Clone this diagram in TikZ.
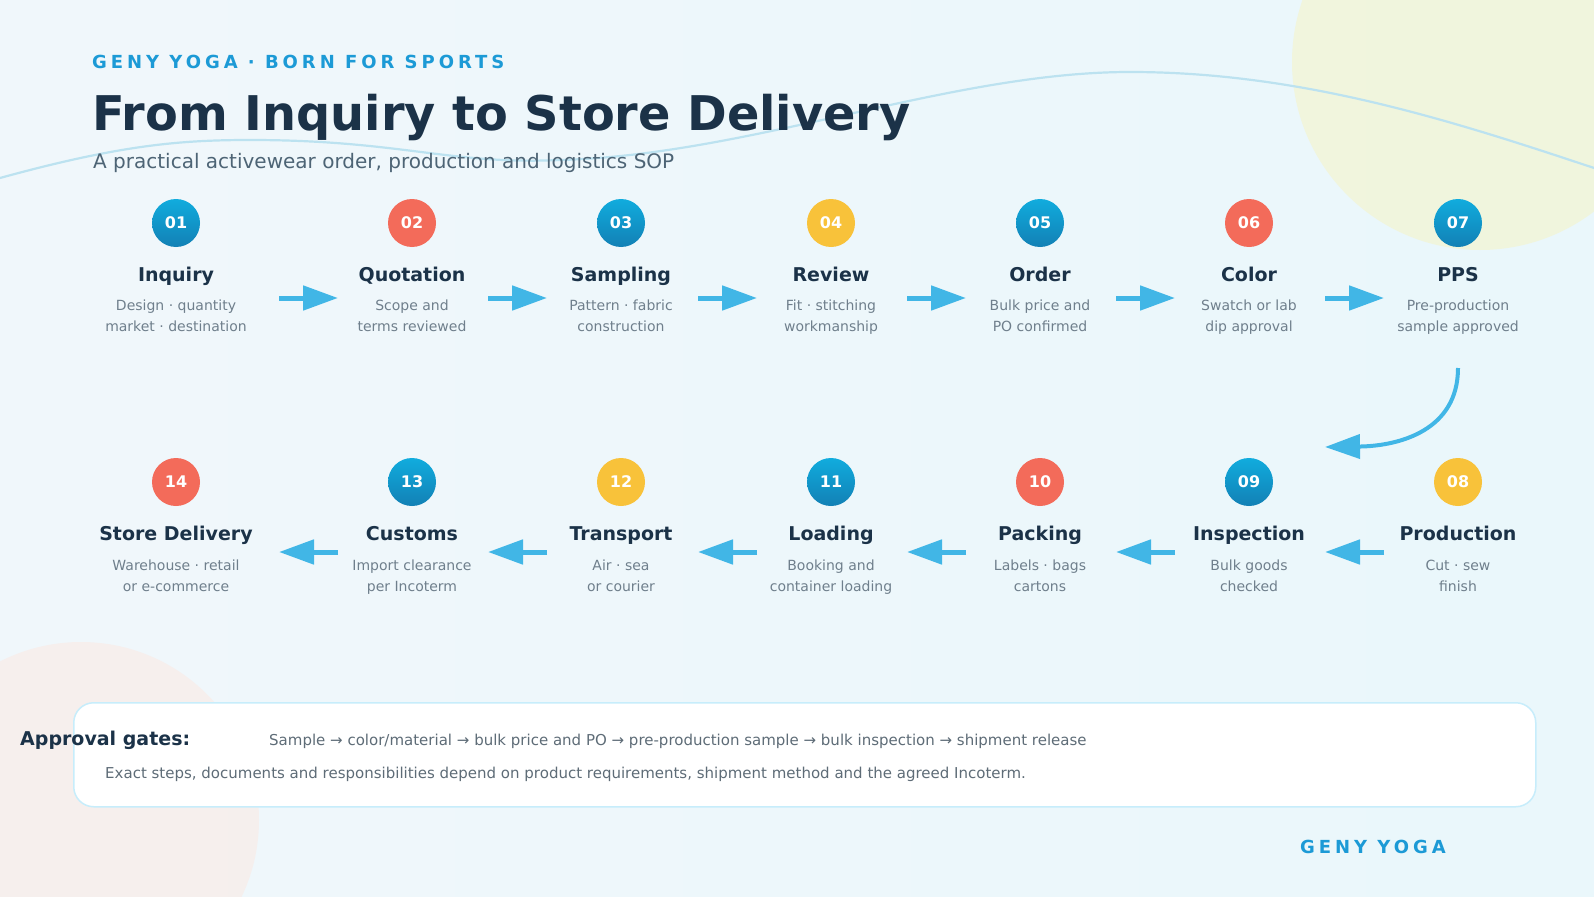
\documentclass[tikz,border=0pt]{standalone}
\usepackage{fontspec}
\setmainfont{DejaVu Sans}
\newfontfamily\brandfont[LetterSpace=22]{DejaVu Sans}
\usetikzlibrary{arrows.meta}

\definecolor{navy}{HTML}{1B3248}
\definecolor{brandblue}{HTML}{1C9AD6}
\definecolor{descgray}{HTML}{6F7F8C}
\definecolor{subgray}{HTML}{4D6475}
\definecolor{flowblue}{HTML}{41B6E6}
\definecolor{dotblue}{HTML}{1597D5}
\definecolor{dotred}{HTML}{F36B5A}
\definecolor{dotyellow}{HTML}{F8C23A}
\definecolor{bgleft}{HTML}{F4F8FA}
\definecolor{bgright}{HTML}{E6F6FC}
\definecolor{wave}{HTML}{BCE2F0}
\pgfdeclarehorizontalshading{bgshade}{100bp}{color(0bp)=(bgleft); color(100bp)=(bgright)}

\tikzset{
	num/.style={circle, minimum size=48pt, inner sep=0pt, text=white, font=\bfseries\fontsize{16}{16}\selectfont},
	bluedot/.style={num, top color=dotblue!80!cyan, bottom color=dotblue!85!black},
	reddot/.style={num, fill=dotred},
	yellowdot/.style={num, fill=dotyellow},
	ttl/.style={anchor=base, text=navy, inner sep=0pt, font=\bfseries\fontsize{19}{20}\selectfont},
	dsc/.style={anchor=base, text=descgray, align=center, inner sep=0pt, font=\fontsize{14}{21}\selectfont},
	flow/.style={line width=5pt, draw=flowblue, -{Triangle[length=35pt,width=24pt]}},
}

\begin{document}
\begin{tikzpicture}[x=1pt, y=-1pt]
	\useasboundingbox (0,0) rectangle (1594,896);
	% background
	\shade[shading=bgshade] (0,0) rectangle (1594,896);
	\fill[yellow!60!olive!20, opacity=0.55] (1480,62) circle (188);
	\fill[red!40!brown!12, opacity=0.6] (81,820) circle (178);
	\draw[wave, line width=2.2pt] (0,178) .. controls (120,145) and (180,140) .. (250,140) .. controls (400,140) and (450,165) .. (560,160) .. controls (750,155) and (950,72) .. (1130,72) .. controls (1300,72) and (1450,120) .. (1594,168);

	% header
	\node[anchor=base west, inner sep=0pt, text=brandblue, font=\brandfont\bfseries\fontsize{18}{20}\selectfont] (brand) at (92,69) {GENY YOGA · BORN FOR SPORTS};
	\node[anchor=base west, inner sep=0pt, text=navy, font=\bfseries\fontsize{47.8}{50}\selectfont] (title) at (92,131) {From Inquiry to Store Delivery};
	\node[anchor=base west, inner sep=0pt, text=subgray, font=\fontsize{20}{22}\selectfont] (subtitle) at (93,168) {A practical activewear order, production and logistics SOP};

	% first row
	\node[bluedot] (n1) at (176,223) {01};
	\node[reddot] (n2) at (412,223) {02};
	\node[bluedot] (n3) at (621,223) {03};
	\node[yellowdot] (n4) at (831,223) {04};
	\node[bluedot] (n5) at (1040,223) {05};
	\node[reddot] (n6) at (1249,223) {06};
	\node[bluedot] (n7) at (1458,223) {07};

	\node[ttl] (t1) at (176,281) {Inquiry};
	\node[ttl] (t2) at (412,281) {Quotation};
	\node[ttl] (t3) at (621,281) {Sampling};
	\node[ttl] (t4) at (831,281) {Review};
	\node[ttl] (t5) at (1040,281) {Order};
	\node[ttl] (t6) at (1249,281) {Color};
	\node[ttl] (t7) at (1458,281) {PPS};

	\node[dsc] (d1) at (176,331) {Design · quantity\\market · destination};
	\node[dsc] (d2) at (412,331) {Scope and\\terms reviewed};
	\node[dsc] (d3) at (621,331) {Pattern · fabric\\construction};
	\node[dsc] (d4) at (831,331) {Fit · stitching\\workmanship};
	\node[dsc] (d5) at (1040,331) {Bulk price and\\PO confirmed};
	\node[dsc] (d6) at (1249,331) {Swatch or lab\\dip approval};
	\node[dsc] (d7) at (1458,331) {Pre-production\\sample approved};

	% second row
	\node[yellowdot] (n8) at (1458,482) {08};
	\node[bluedot] (n9) at (1249,482) {09};
	\node[reddot] (n10) at (1040,482) {10};
	\node[bluedot] (n11) at (831,482) {11};
	\node[yellowdot] (n12) at (621,482) {12};
	\node[bluedot] (n13) at (412,482) {13};
	\node[reddot] (n14) at (176,482) {14};

	\node[ttl] (t8) at (1458,540) {Production};
	\node[ttl] (t9) at (1249,540) {Inspection};
	\node[ttl] (t10) at (1040,540) {Packing};
	\node[ttl] (t11) at (831,540) {Loading};
	\node[ttl] (t12) at (621,540) {Transport};
	\node[ttl] (t13) at (412,540) {Customs};
	\node[ttl] (t14) at (176,540) {Store Delivery};

	\node[dsc] (d8) at (1458,591) {Cut · sew\\finish};
	\node[dsc] (d9) at (1249,591) {Bulk goods\\checked};
	\node[dsc] (d10) at (1040,591) {Labels · bags\\cartons};
	\node[dsc] (d11) at (831,591) {Booking and\\container loading};
	\node[dsc] (d12) at (621,591) {Air · sea\\or courier};
	\node[dsc] (d13) at (412,591) {Import clearance\\per Incoterm};
	\node[dsc] (d14) at (176,591) {Warehouse · retail\\or e-commerce};

	% arrows
	\draw[flow] ([xshift=-133pt]t2.base |- 0,298) -- ([xshift=-74pt]t2.base |- 0,298);
	\draw[flow] ([xshift=-133pt]t3.base |- 0,298) -- ([xshift=-74pt]t3.base |- 0,298);
	\draw[flow] ([xshift=-133pt]t4.base |- 0,298) -- ([xshift=-74pt]t4.base |- 0,298);
	\draw[flow] ([xshift=-133pt]t5.base |- 0,298) -- ([xshift=-74pt]t5.base |- 0,298);
	\draw[flow] ([xshift=-133pt]t6.base |- 0,298) -- ([xshift=-74pt]t6.base |- 0,298);
	\draw[flow] ([xshift=-133pt]t7.base |- 0,298) -- ([xshift=-74pt]t7.base |- 0,298);

	\draw[flow, line width=4pt] (d7.base |- 0,368) .. controls +(0,62) and +(75,-1) .. (1325,447);

	\draw[flow] ([xshift=-74pt]t8.base |- 0,552) -- ([xshift=-133pt]t8.base |- 0,552);
	\draw[flow] ([xshift=-74pt]t9.base |- 0,552) -- ([xshift=-133pt]t9.base |- 0,552);
	\draw[flow] ([xshift=-74pt]t10.base |- 0,552) -- ([xshift=-133pt]t10.base |- 0,552);
	\draw[flow] ([xshift=-74pt]t11.base |- 0,552) -- ([xshift=-133pt]t11.base |- 0,552);
	\draw[flow] ([xshift=-74pt]t12.base |- 0,552) -- ([xshift=-133pt]t12.base |- 0,552);
	\draw[flow] ([xshift=-74pt]t13.base |- 0,552) -- ([xshift=-133pt]t13.base |- 0,552);

	% approval gates
	\node[draw=cyan!22!white, line width=1.5pt, fill=white, rounded corners=20pt, minimum width=1462pt, minimum height=104pt, anchor=north west] (gates) at (73,702) {};
	\node[anchor=base west, inner sep=0pt, text=navy, font=\bfseries\fontsize{19}{20}\selectfont] (gatelbl) at (20,745) {Approval gates:};
	\node[anchor=base west, inner sep=0pt, text=descgray!85!black, font=\fontsize{15}{16}\selectfont] (gatelist) at (269,745) {Sample → color/material → bulk price and PO → pre-production sample → bulk inspection → shipment release};
	\node[anchor=base west, inner sep=0pt, text=descgray!85!black, font=\fontsize{15}{16}\selectfont] (gatenote) at (105,778) {Exact steps, documents and responsibilities depend on product requirements, shipment method and the agreed Incoterm.};

	\node[anchor=base west, inner sep=0pt, text=brandblue, font=\brandfont\bfseries\fontsize{18}{20}\selectfont] (footer) at (1300,853) {GENY YOGA};
\end{tikzpicture}
\end{document}
